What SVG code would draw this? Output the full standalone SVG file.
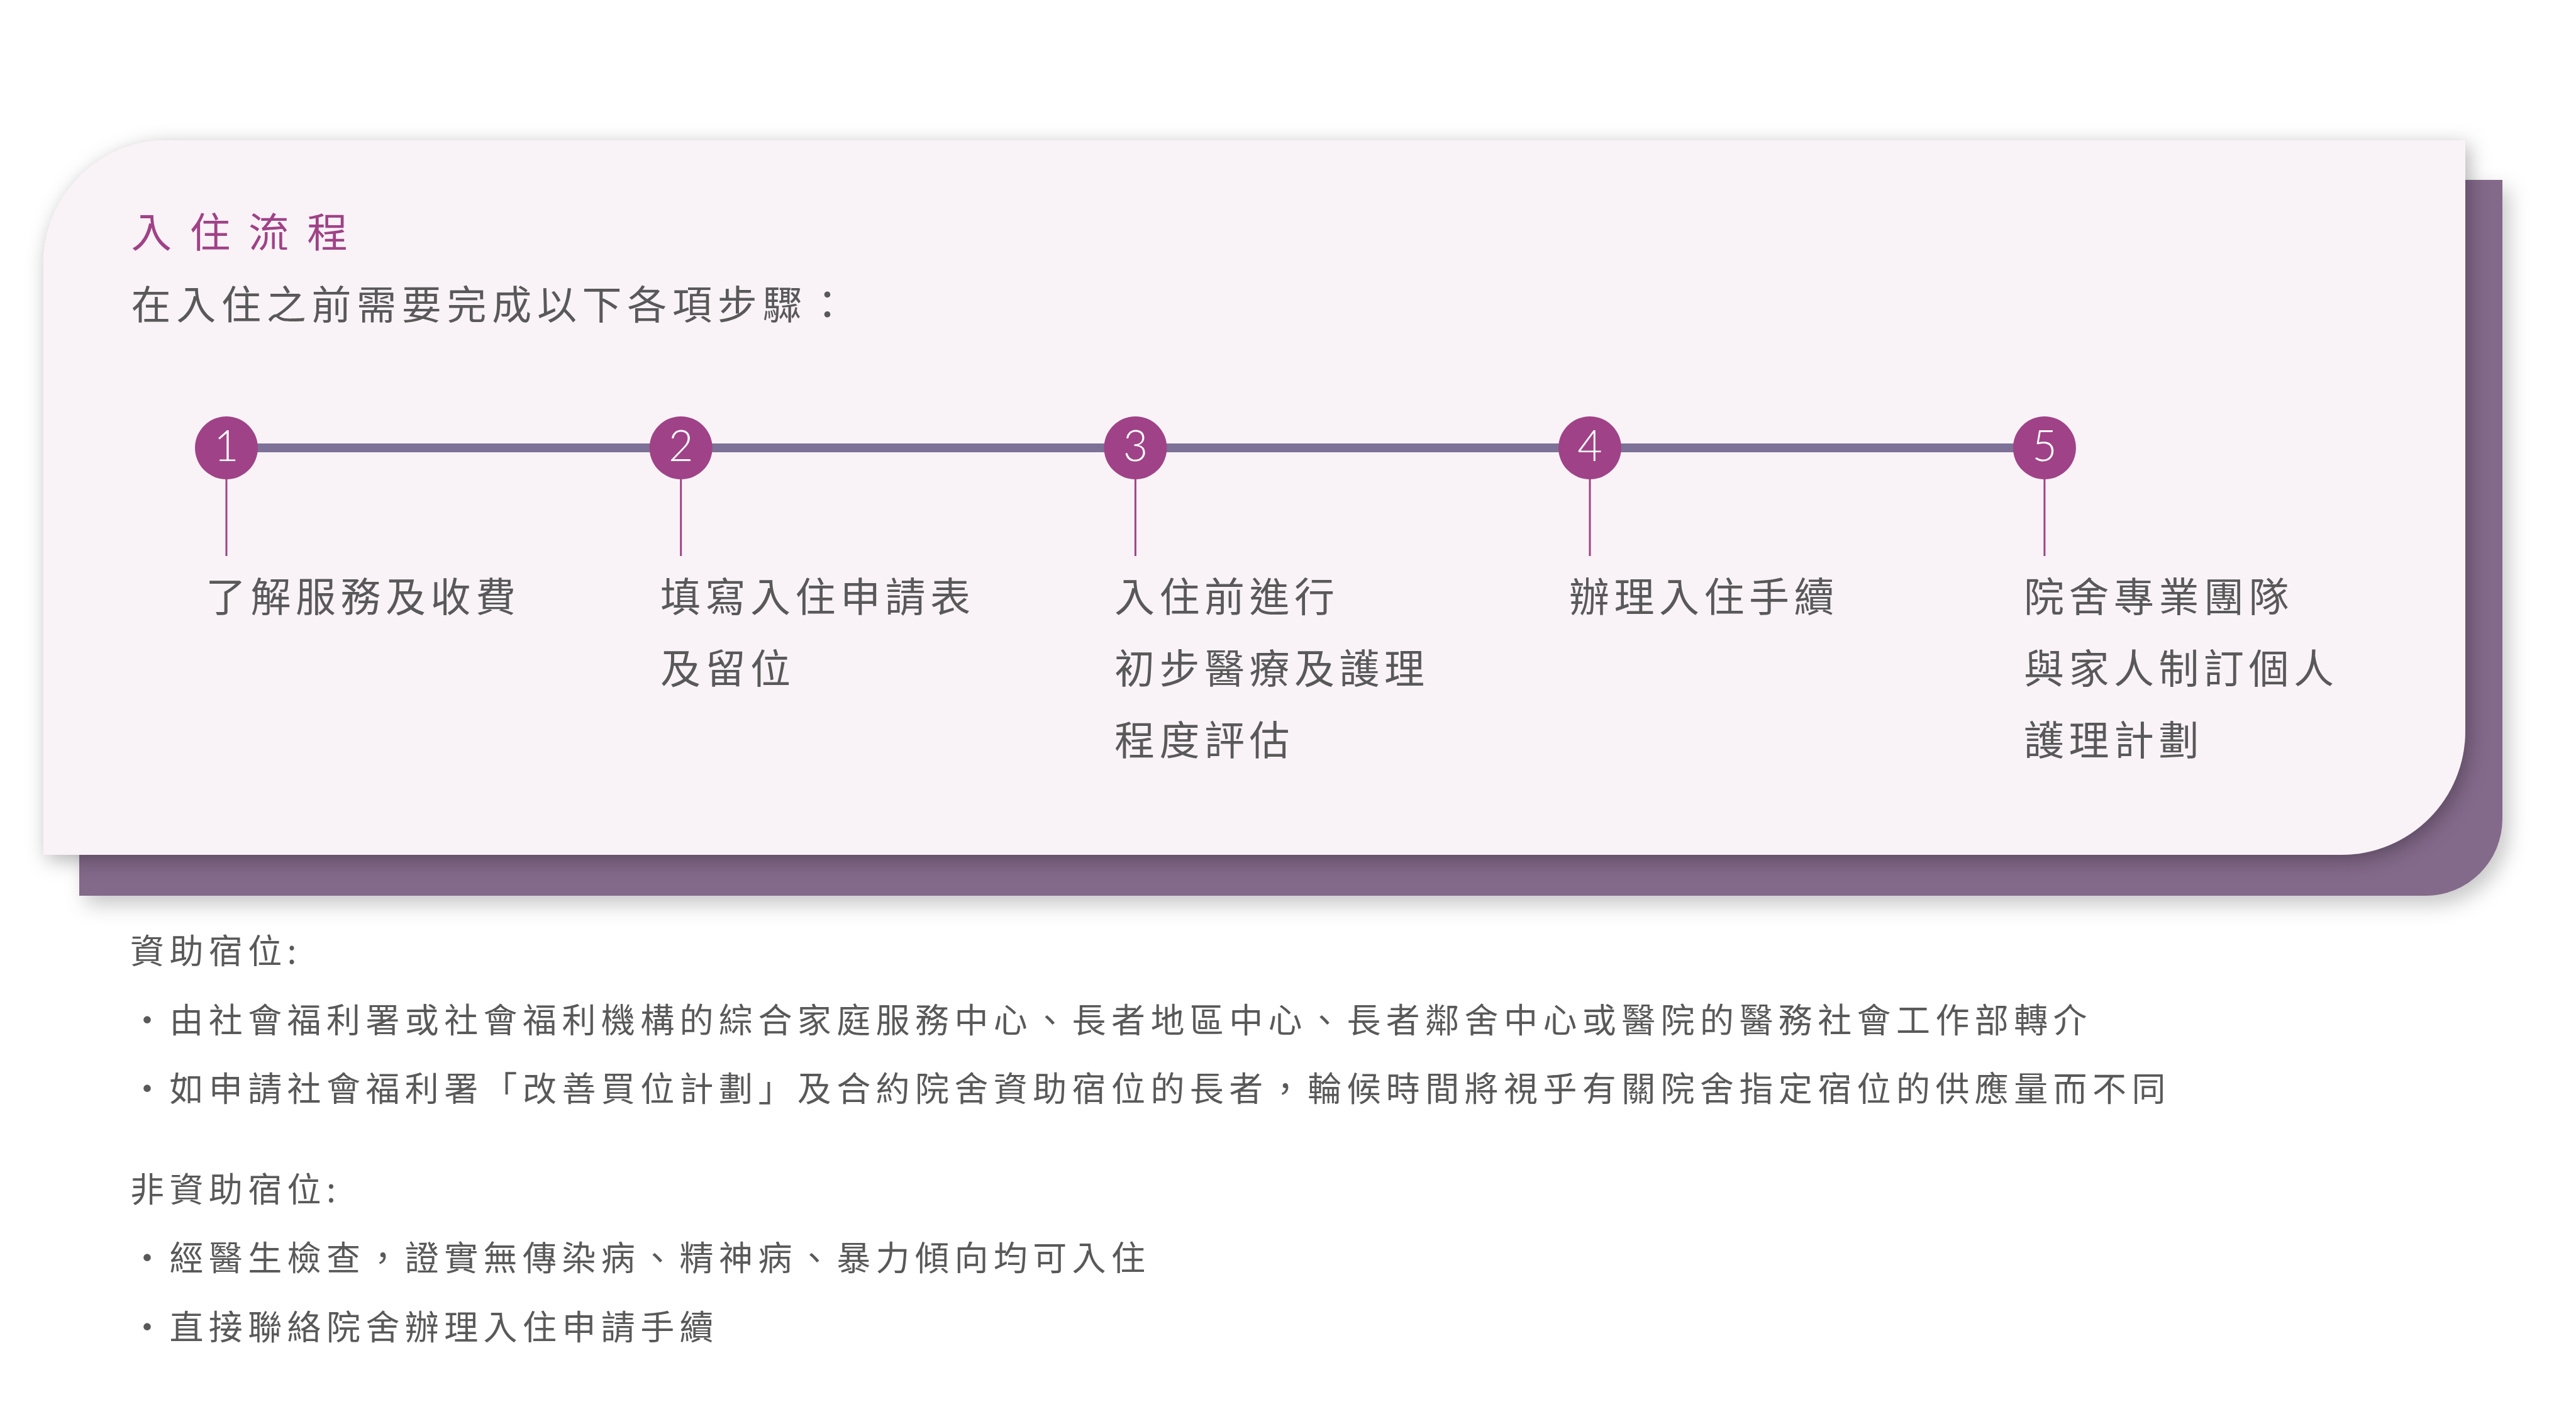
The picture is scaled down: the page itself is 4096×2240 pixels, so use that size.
<svg xmlns="http://www.w3.org/2000/svg" width="4096" height="2240" viewBox="0 0 4096 2240">
<defs>
<filter id="shCard" x="-5%" y="-10%" width="110%" height="125%">
<feDropShadow dx="6" dy="8" stdDeviation="16" flood-color="#000" flood-opacity="0.3"/>
</filter>
<filter id="shBack" x="-5%" y="-10%" width="110%" height="125%">
<feDropShadow dx="10" dy="14" stdDeviation="16" flood-color="#000" flood-opacity="0.22"/>
</filter>
<style>
.cjk{font-family:"Noto Sans CJK TC","Noto Sans CJK SC",sans-serif;fill:#595959}
.title{font-size:64.5px;letter-spacing:28.7px;fill:#a04287}
.sub{font-size:63px;letter-spacing:8.7px}
.lbl{font-size:64px;letter-spacing:7.5px}
.body{font-size:54px;letter-spacing:8.4px}
.num{font-family:Lato,"Open Sans",sans-serif;font-weight:300;font-size:68px;fill:#fff;text-anchor:middle}
.dot{fill:#a04287}
.tick{stroke:#a04287;stroke-width:3}
</style>
</defs>
<rect width="4096" height="2240" fill="#fff"/>
<g id="card">
<path d="M126 286 H3979 V1302 A122 122 0 0 1 3857 1424 H126 Z" fill="#83698a" filter="url(#shBack)"/>
<path d="M266 223 H3920 V1162 A197 197 0 0 1 3723 1359 H69 V420 A197 197 0 0 1 266 223 Z" fill="#f9f3f7" filter="url(#shCard)"/>
</g>
<g id="heading">
<text class="cjk title" x="208.6" y="393">入住流程</text>
<text class="cjk sub" x="208.6" y="507">在入住之前需要完成以下各項步驟：</text>
</g>
<g id="connectors">
<line x1="360" y1="712" x2="3251" y2="712" stroke="#7e7197" stroke-width="14"/>
<line class="tick" x1="360" y1="760" x2="360" y2="884"/>
<line class="tick" x1="1082.7" y1="760" x2="1082.7" y2="884"/>
<line class="tick" x1="1805.4" y1="760" x2="1805.4" y2="884"/>
<line class="tick" x1="2528" y1="760" x2="2528" y2="884"/>
<line class="tick" x1="3250.9" y1="760" x2="3250.9" y2="884"/>
</g>
<g id="step1">
<circle class="dot" cx="360" cy="712" r="50"/>
<text class="num" x="360" y="733">1</text>
<text class="cjk lbl" x="327" y="972">了解服務及收費</text>
</g>
<g id="step2">
<circle class="dot" cx="1082.7" cy="712" r="50"/>
<text class="num" x="1082.7" y="733">2</text>
<text class="cjk lbl" x="1050" y="972">填寫入住申請表</text>
<text class="cjk lbl" x="1050" y="1086">及留位</text>
</g>
<g id="step3">
<circle class="dot" cx="1805.4" cy="712" r="50"/>
<text class="num" x="1805.4" y="733">3</text>
<text class="cjk lbl" x="1772" y="972">入住前進行</text>
<text class="cjk lbl" x="1772" y="1086">初步醫療及護理</text>
<text class="cjk lbl" x="1772" y="1200">程度評估</text>
</g>
<g id="step4">
<circle class="dot" cx="2528" cy="712" r="50"/>
<text class="num" x="2528" y="733">4</text>
<text class="cjk lbl" x="2495" y="972">辦理入住手續</text>
</g>
<g id="step5">
<circle class="dot" cx="3250.9" cy="712" r="50"/>
<text class="num" x="3250.9" y="733">5</text>
<text class="cjk lbl" x="3218" y="972">院舍專業團隊</text>
<text class="cjk lbl" x="3218" y="1086">與家人制訂個人</text>
<text class="cjk lbl" x="3218" y="1200">護理計劃</text>
</g>
<g id="notes">
<text class="cjk body" x="207" y="1532">資助宿位:</text>
<text class="cjk body" x="207" y="1642">・由社會福利署或社會福利機構的綜合家庭服務中心、長者地區中心、長者鄰舍中心或醫院的醫務社會工作部轉介</text>
<text class="cjk body" x="207" y="1751">・如申請社會福利署「改善買位計劃」及合約院舍資助宿位的長者，輪候時間將視乎有關院舍指定宿位的供應量而不同</text>
<text class="cjk body" x="207" y="1911">非資助宿位:</text>
<text class="cjk body" x="207" y="2020">・經醫生檢查，證實無傳染病、精神病、暴力傾向均可入住</text>
<text class="cjk body" x="207" y="2130">・直接聯絡院舍辦理入住申請手續</text>
</g>
</svg>
